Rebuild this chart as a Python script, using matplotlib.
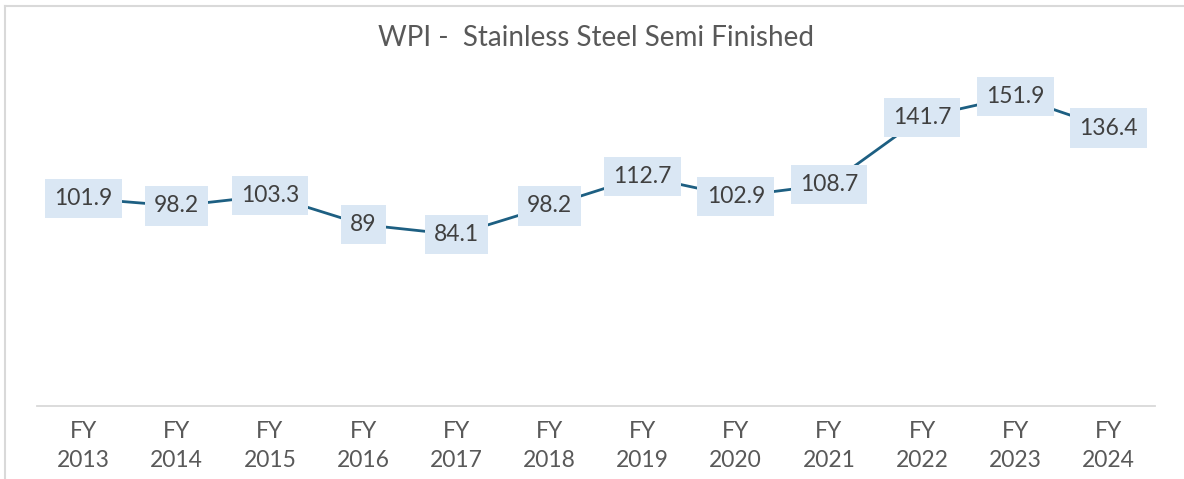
import matplotlib
matplotlib.use("Agg")
import matplotlib.pyplot as plt
from matplotlib.lines import Line2D

years = ["FY\n2013", "FY\n2014", "FY\n2015", "FY\n2016", "FY\n2017", "FY\n2018",
         "FY\n2019", "FY\n2020", "FY\n2021", "FY\n2022", "FY\n2023", "FY\n2024"]
values = [101.9, 98.2, 103.3, 89, 84.1, 98.2, 112.7, 102.9, 108.7, 141.7, 151.9, 136.4]
title = "WPI -  Stainless Steel Semi Finished"

plt.rcParams['font.family'] = ['Lato', 'DejaVu Sans']

W, H = 1184, 479
fig = plt.figure(figsize=(W / 100, H / 100), dpi=100)

# chart frame (left and top edges visible)
fig.add_artist(Line2D([5 / W, 5 / W], [0, 1 - 6 / H], color="#D9D9D9", lw=1.5))
fig.add_artist(Line2D([5 / W, 1], [1 - 6 / H, 1 - 6 / H], color="#D9D9D9", lw=1.5))

left, right = 37 / W, 1155 / W
bottom = (H - 406) / H
top = (H - 80) / H
ax = fig.add_axes([left, bottom, right - left, top - bottom])

x = list(range(len(values)))
ax.plot(x, values, color="#1D5F82", lw=2.0, zorder=2)
for xi, v in zip(x, values):
    ax.text(xi, v, f"{v:g}", ha="center", va="center", fontsize=16.5, color="#404040",
            zorder=3,
            bbox=dict(boxstyle="square,pad=0.4", fc="#DAE7F4", ec="none"))

ax.set_xlim(-0.5, len(values) - 0.5)
ax.set_ylim(0, 160)
ax.set_xticks(x)
ax.set_xticklabels(years, fontsize=16.5, color="#595959", linespacing=1.45)
ax.tick_params(axis="x", length=0, pad=11)
ax.set_yticks([])
for s in ["left", "right", "top"]:
    ax.spines[s].set_visible(False)
ax.spines["bottom"].set_color("#D9D9D9")
ax.spines["bottom"].set_linewidth(1.3)

fig.text(596 / W, 1 - 38.5 / H, title, ha="center", va="center", fontsize=20, color="#595959")

fig.savefig("out.png", dpi=100)
